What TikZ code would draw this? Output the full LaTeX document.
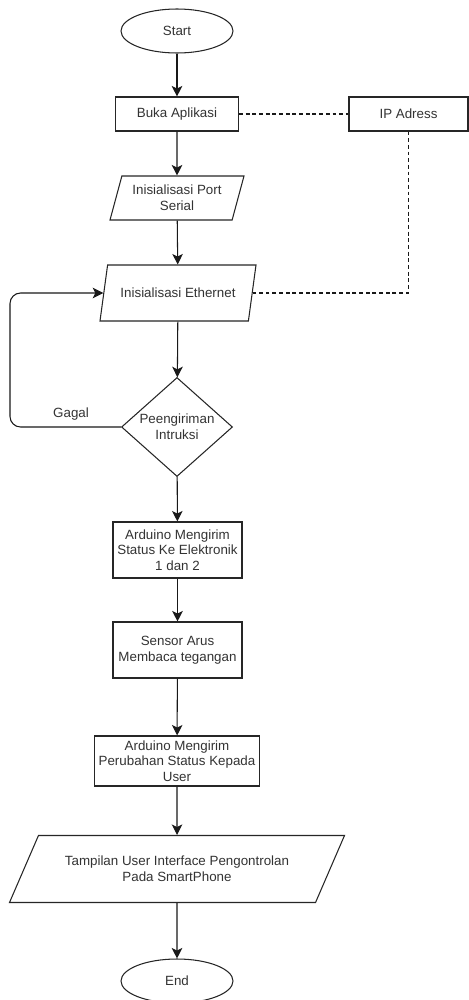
\documentclass[tikz,border=0pt]{standalone}
\usepackage{fontspec}
\setmainfont{Liberation Sans}
\usetikzlibrary{shapes.geometric, positioning, arrows, arrows.meta}
\tikzstyle{flowText} = [text=black!80, font=\fontsize{7.6}{8.9}\selectfont, align=center]
\tikzstyle{termBox} = [flowText, shape=ellipse, draw=black!85, semithick, fill=white,
	minimum width=2.24cm, minimum height=0.88cm, inner sep=0pt]
\tikzstyle{procBox} = [flowText, shape=rectangle, draw=black!85, semithick, fill=white,
	minimum width=2.58cm, minimum height=1.12cm, inner sep=1pt]
\tikzstyle{dataBox} = [flowText, shape=trapezium, draw=black!85, semithick, fill=white,
	trapezium stretches body=true, inner sep=1pt]
\tikzstyle{decBox} = [flowText, shape=diamond, draw=black!85, semithick, fill=white,
	minimum width=2.22cm, minimum height=1.98cm, inner sep=0pt, aspect=1.12]
\tikzstyle{normalArrow} = [semithick, -{Stealth[length=6pt, width=6pt, inset=1.5pt]}, draw=black!90]
\tikzstyle{dashLine} = [semithick, dash pattern=on 2.2pt off 1.6pt, draw=black!90]

\begin{document}
\begin{tikzpicture}
	\useasboundingbox (0,0) rectangle (9.38,-20);
	\node (Start) at (3.54,-0.62) [termBox] {Start};
	\node (Buka) at (3.54,-2.28) [procBox, minimum width=2.46cm, minimum height=0.68cm] {Buka Aplikasi};
	\node (IP) at (8.17,-2.28) [procBox, minimum width=2.38cm, minimum height=0.68cm] {IP Adress};
	\node (Port) at (3.54,-3.96) [dataBox, trapezium left angle=67.7, trapezium right angle=112.3,
		minimum width=2.68cm, minimum height=0.88cm] {Inisialisasi Port\\Serial};
	\node (Eth) at (3.56,-5.86) [dataBox, trapezium left angle=60.3, trapezium right angle=119.7,
		minimum width=3.12cm, minimum height=1.12cm] {Inisialisasi Ethernet};
	\node (Kirim) at (3.54,-8.54) [decBox] {Peengiriman\\Intruksi};
	\node (Ard1) at (3.55,-11.0) [procBox] {Arduino Mengirim\\Status Ke Elektronik\\1 dan 2};
	\node (Sensor) at (3.55,-13.0) [procBox] {Sensor Arus\\Membaca tegangan};
	\node (Ard2) at (3.54,-15.22) [procBox, minimum width=3.3cm, minimum height=1.0cm] {Arduino Mengirim\\Perubahan Status Kepada\\User};
	\node (Tampil) at (3.54,-17.38) [dataBox, trapezium left angle=45, trapezium right angle=135,
		minimum width=6.7cm, minimum height=1.34cm] {Tampilan User Interface Pengontrolan\\Pada SmartPhone};
	\node (End) at (3.54,-19.62) [termBox] {End};
	\coordinate (Loop) at (0.2,-8.54);

	\draw [normalArrow] (Start) -- (Buka);
	\draw [normalArrow] (Buka) -- (Port);
	\draw [normalArrow] (Port) -- (Eth);
	\draw [normalArrow] (Eth) -- (Kirim);
	\draw [normalArrow] (Kirim) -- (Ard1);
	\draw [normalArrow] (Ard1) -- (Sensor);
	\draw [normalArrow] (Sensor) -- (Ard2);
	\draw [normalArrow] (Ard2) -- (Tampil);
	\draw [normalArrow] (Tampil) -- (End);
	\draw [normalArrow, rounded corners=6pt] (Kirim.west) -- node[flowText, above, pos=.45] {Gagal} (Loop) |- (Eth.left side);

	\draw [dashLine] (Buka) -- (IP);
	\draw [dashLine] (IP.south) |- (Eth.right side);
\end{tikzpicture}
\end{document}
